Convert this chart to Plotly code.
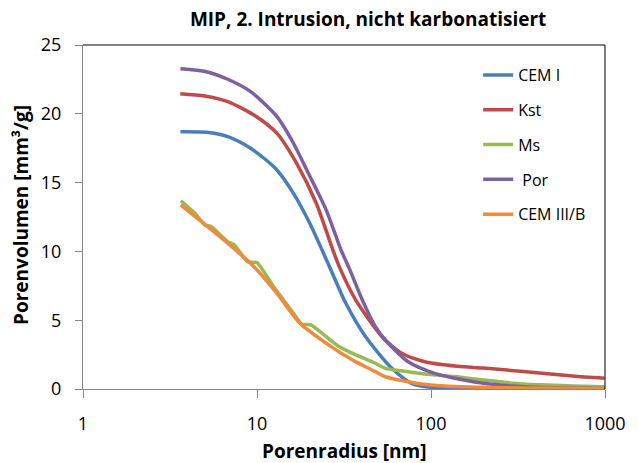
import plotly.graph_objects as go

# ---- data ----
cem1_r = [3.63, 5.12, 6.79, 9.20, 12.75, 16.2, 20.1, 26.1, 32.4, 42.1, 59.6, 77.3, 100.4, 176, 400, 1000]
cem1_v = [18.70, 18.66, 18.34, 17.49, 16.04, 14.22, 12.04, 8.89, 6.23, 3.80, 1.50, 0.41, 0.12, 0.03, 0.01, 0.01]

kst_r = [3.62, 5.01, 6.79, 9.61, 13.03, 16.9, 21.9, 27.3, 29.7, 36.9, 52.3, 67.9, 92.0, 142, 201, 339, 650, 995]
kst_v = [21.46, 21.29, 20.88, 19.91, 18.58, 16.40, 13.50, 10.10, 8.89, 6.47, 3.80, 2.59, 1.98, 1.65, 1.52, 1.27, 0.94, 0.78]

ms_r = [3.65, 4.40, 5.01, 5.46, 6.79, 7.41, 8.81, 10.04, 12.48, 16.2, 18.05, 20.56, 25.0, 29.7, 35.4, 47.9, 54.6, 92.0, 141, 201, 339, 650, 995]
ms_v = [13.68, 12.77, 11.92, 11.80, 10.70, 10.47, 9.25, 9.18, 7.43, 5.50, 4.72, 4.65, 3.80, 3.07, 2.59, 1.87, 1.50, 1.09, 0.89, 0.65, 0.36, 0.22, 0.17]

por_r = [3.63, 5.12, 6.79, 9.20, 13.03, 16.2, 19.26, 25.0, 30.4, 33.9, 40.3, 47.9, 54.6, 74.0, 104.8, 154.9, 201, 339, 650, 995]
por_v = [23.28, 23.06, 22.51, 21.61, 19.79, 17.86, 15.95, 13.00, 10.10, 8.77, 6.47, 4.53, 3.56, 1.98, 1.14, 0.65, 0.41, 0.17, 0.07, 0.04]

cem3_r = [3.65, 4.80, 6.79, 9.61, 13.03, 17.65, 25.0, 35.4, 47.9, 54.6, 88.2, 119.4, 201, 339, 995]
cem3_v = [13.37, 12.16, 10.59, 8.89, 6.95, 4.77, 3.32, 2.11, 1.26, 0.89, 0.36, 0.22, 0.12, 0.07, 0.04]

names = ["CEM I", "Kst", "Ms", " Por", "CEM III/B"]
colors = ["#4A7EBB", "#BE4B48", "#98B954", "#7D60A0", "#F08A3C"]
smooth = [0.7, 0.7, 0.35, 0.7, 0.7]
series = [(cem1_r, cem1_v), (kst_r, kst_v), (ms_r, ms_v), (por_r, por_v), (cem3_r, cem3_v)]

x_ticks = [1, 10, 100, 1000]
x_ticktext = ["1", "10", "100", "1000"]

FONT = "Open Sans"

fig = go.Figure()
for (r, v), n, c, s in zip(series, names, colors, smooth):
    fig.add_trace(go.Scatter(x=r, y=v, mode="lines", name=n, legendgroup=n,
                             line=dict(color=c, width=3.5, shape="spline", smoothing=s)))

fig.update_layout(
    width=638, height=463,
    margin=dict(l=83, r=25, t=45, b=74),
    paper_bgcolor="white", plot_bgcolor="white",
    font=dict(family=FONT, color="black", size=18),
    title=dict(text="<b>MIP, 2. Intrusion, nicht karbonatisiert</b>",
               xref="container", x=0.577, xanchor="center",
               yref="container", y=1 - 19 / 463, yanchor="middle",
               font=dict(family=FONT, size=19, color="black")),
    legend=dict(x=0.757, xanchor="left", y=0.962, yanchor="top",
                traceorder="grouped", tracegroupgap=11,
                font=dict(family=FONT, size=16, color="black"),
                bgcolor="rgba(0,0,0,0)", borderwidth=0),
    showlegend=True,
)

fig.update_xaxes(type="log", range=[0, 3], tickvals=x_ticks, ticktext=x_ticktext,
                 showline=True, linecolor="#868686", linewidth=1,
                 ticks="outside", ticklen=8, tickcolor="#868686",
                 showgrid=False, zeroline=False, ticklabelstandoff=10,
                 tickfont=dict(family=FONT, size=18, color="black"))
fig.update_yaxes(range=[0, 25], dtick=5, tick0=0,
                 showline=True, linecolor="#868686", linewidth=1,
                 ticks="outside", ticklen=7, tickcolor="#868686",
                 showgrid=False, zeroline=False, ticklabelstandoff=10,
                 tickfont=dict(family=FONT, size=18, color="black"))

# plot-area border (top and right, black)
fig.add_shape(type="line", xref="x domain", yref="y domain", x0=0, x1=1, y0=1, y1=1,
              line=dict(color="black", width=1))
fig.add_shape(type="line", xref="x domain", yref="y domain", x0=1, x1=1, y0=0, y1=1,
              line=dict(color="black", width=1))

# axis titles
fig.add_annotation(text="<b>Porenradius [nm]</b>", xref="paper", yref="paper",
                   x=0.5, y=(389 - 451) / 344, xanchor="center", yanchor="middle",
                   showarrow=False, font=dict(family=FONT, size=19, color="black"))
fig.add_annotation(text="<b>Porenvolumen [mm³/g]</b>", xref="paper", yref="paper",
                   x=(20 - 83) / 530, y=(389 - 215) / 344, xanchor="center", yanchor="middle",
                   textangle=-90, showarrow=False, font=dict(family=FONT, size=19, color="black"))

fig.write_html("out.html")
